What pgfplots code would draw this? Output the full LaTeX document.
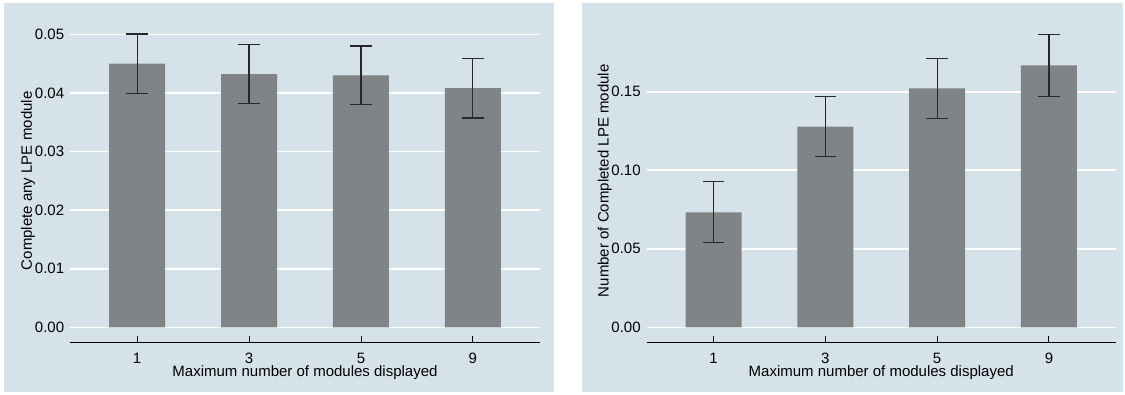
\documentclass[border=0pt]{standalone}
\usepackage{fontspec}
\setmainfont{Liberation Sans}
\usepackage{pgfplots}
\pgfplotsset{compat=1.18}
\definecolor{bgblue}{RGB}{213,226,233}
\definecolor{bargray}{RGB}{128,132,135}
\definecolor{errcol}{RGB}{40,40,40}

\pgfplotsset{
 stpanel/.style={
  scale only axis,
  anchor=south west,
  xmin=0.4, xmax=4.6,
  axis x line=bottom,
  axis y line=left,
  x axis line style={-, black, line width=1pt},
  y axis line style={draw=none},
  xtick={1,2,3,4},
  xticklabels={1,3,5,9},
  tick align=inside,
  major tick length=6pt,
  xtick style={black, line width=0.9pt},
  ytick style={draw=none},
  ymajorgrids,
  major grid style={white, line width=1.6pt},
  scaled y ticks=false,
  tick label style={font=\fontsize{15}{18}\selectfont},
  label style={font=\fontsize{15}{18}\selectfont},
  xticklabel style={anchor=base, yshift=-21pt},
  yticklabel style={anchor=east, xshift=-2.3pt},
  /pgf/number format/fixed,
  /pgf/number format/fixed zerofill,
  /pgf/number format/precision=2,
  /pgf/number format/assume math mode=true,
  xlabel={Maximum number of modules displayed},
  xlabel style={at={(axis description cs:0.5,0)}, anchor=base, yshift=-34.4pt},
 },
 stbar/.style={
  ybar, bar width=0.5, fill=bargray, draw=none,
  error bars/.cd, y dir=both, y explicit,
  error bar style={errcol, line width=1.2pt},
  error mark options={rotate=90, errcol, line width=1.2pt, mark size=10.7pt},
 }
}

\begin{document}
\begin{tikzpicture}[x=1pt,y=1pt]
\path[use as bounding box, fill=white] (0,0) rectangle (1125,394);
\fill[bgblue] (4,2) rectangle (554,391);
\fill[bgblue] (582,2) rectangle (1123,391);

\begin{axis}[stpanel,
  at={(70pt,51.7pt)}, width=470pt, height=310.9pt,
  ymin=-0.00256, ymax=0.0505,
  ytick={0,0.01,0.02,0.03,0.04,0.05},
  ylabel={Complete any LPE module},
  ylabel style={at={(axis description cs:-0.0809,0.5194)}, anchor=base},
]
\addplot[stbar] coordinates {
 (1,0.0450) +- (0,0.00507)
 (2,0.0432) +- (0,0.00503)
 (3,0.0430) +- (0,0.00500)
 (4,0.0408) +- (0,0.00507)
};
\end{axis}

\begin{axis}[stpanel,
  at={(646.5pt,51.7pt)}, width=469.5pt, height=313.4pt,
  ymin=-0.00955, ymax=0.19,
  ytick={0,0.05,0.10,0.15},
  ylabel={Number of Completed LPE module},
  ylabel style={at={(axis description cs:-0.0809,0.5154)}, anchor=base},
]
\addplot[stbar] coordinates {
 (1,0.0732) +- (0,0.0194)
 (2,0.1278) +- (0,0.01925)
 (3,0.1522) +- (0,0.01915)
 (4,0.1668) +- (0,0.0196)
};
\end{axis}
\end{tikzpicture}
\end{document}
